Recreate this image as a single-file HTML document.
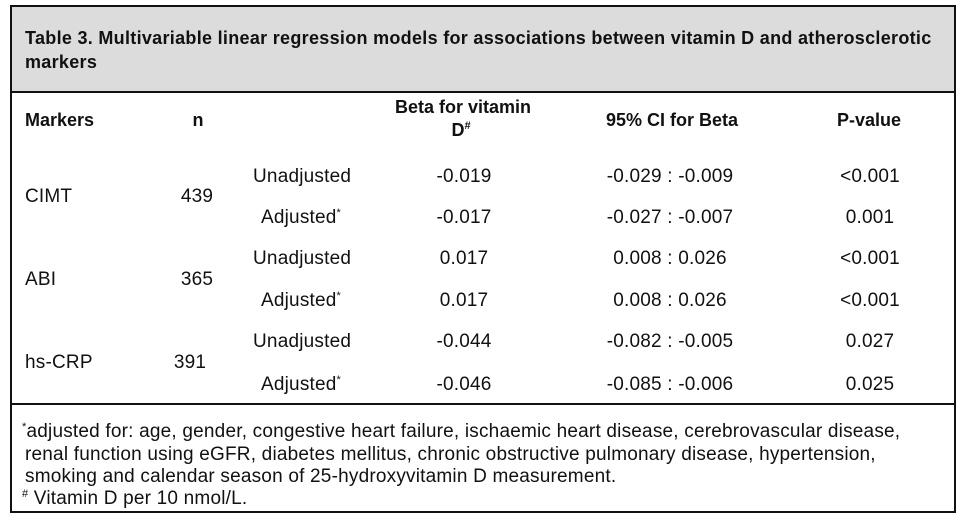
<!DOCTYPE html>
<html><head><style>
body{margin:0;width:969px;height:523px;background:#fff;position:relative;overflow:hidden;font-family:"Liberation Sans",sans-serif;color:#111;}
.box{position:absolute;left:10px;top:5px;width:942px;height:504px;border:2px solid #111;}
.hdr{position:absolute;left:12px;top:7px;width:942px;height:84px;background:#dcdcdc;border-bottom:2px solid #111;}
.fl{position:absolute;left:12px;top:403px;width:942px;border-top:2px solid #111;}
.t{position:absolute;white-space:nowrap;font-size:19px;line-height:22px;letter-spacing:0.2px;}
.b{font-weight:bold;font-size:18px;letter-spacing:0;}
.c{transform:translateX(-50%);}
sup{font-size:11px;vertical-align:7px;line-height:0;}
</style></head><body>
<div class="box"></div>
<div class="hdr"></div>
<div class="fl"></div>
<div class="t b" style="left:25px;top:27px;letter-spacing:0.3px">Table 3. Multivariable linear regression models for associations between vitamin D and atherosclerotic</div>
<div class="t b" style="left:25px;top:51px;letter-spacing:0.3px">markers</div>

<div class="t b" style="left:25px;top:109px">Markers</div>
<div class="t b c" style="left:198px;top:109px">n</div>
<div class="t b c" style="left:463px;top:96px">Beta for vitamin</div>
<div class="t b c" style="left:461px;top:119px">D<sup>#</sup></div>
<div class="t b c" style="left:672px;top:109px">95% CI for Beta</div>
<div class="t b c" style="left:869px;top:109px">P-value</div>

<div class="t" style="left:25px;top:186px">CIMT</div>
<div class="t c" style="left:197px;top:186px">439</div>
<div class="t" style="left:25px;top:269px">ABI</div>
<div class="t c" style="left:197px;top:269px">365</div>
<div class="t" style="left:25px;top:352px">hs-CRP</div>
<div class="t c" style="left:190px;top:352px">391</div>

<div class="t" style="left:253px;top:166px">Unadjusted</div>
<div class="t" style="left:261px;top:207px">Adjusted<sup>*</sup></div>
<div class="t" style="left:253px;top:248px">Unadjusted</div>
<div class="t" style="left:261px;top:290px">Adjusted<sup>*</sup></div>
<div class="t" style="left:253px;top:331px">Unadjusted</div>
<div class="t" style="left:261px;top:374px">Adjusted<sup>*</sup></div>

<div class="t c" style="left:464px;top:166px">-0.019</div>
<div class="t c" style="left:464px;top:207px">-0.017</div>
<div class="t c" style="left:464px;top:248px">0.017</div>
<div class="t c" style="left:464px;top:290px">0.017</div>
<div class="t c" style="left:464px;top:331px">-0.044</div>
<div class="t c" style="left:464px;top:374px">-0.046</div>

<div class="t c" style="left:670px;top:166px">-0.029 : -0.009</div>
<div class="t c" style="left:670px;top:207px">-0.027 : -0.007</div>
<div class="t c" style="left:670px;top:248px">0.008 : 0.026</div>
<div class="t c" style="left:670px;top:290px">0.008 : 0.026</div>
<div class="t c" style="left:670px;top:331px">-0.082 : -0.005</div>
<div class="t c" style="left:670px;top:374px">-0.085 : -0.006</div>

<div class="t c" style="left:870px;top:166px">&lt;0.001</div>
<div class="t c" style="left:870px;top:207px">0.001</div>
<div class="t c" style="left:870px;top:248px">&lt;0.001</div>
<div class="t c" style="left:870px;top:290px">&lt;0.001</div>
<div class="t c" style="left:870px;top:331px">0.027</div>
<div class="t c" style="left:870px;top:374px">0.025</div>

<div class="t" style="left:22px;top:421px"><sup>*</sup>adjusted for: age, gender, congestive heart failure, ischaemic heart disease, cerebrovascular disease,</div>
<div class="t" style="left:25px;top:444px">renal function using eGFR, diabetes mellitus, chronic obstructive pulmonary disease, hypertension,</div>
<div class="t" style="left:25px;top:466px">smoking and calendar season of 25-hydroxyvitamin D measurement.</div>
<div class="t" style="left:22px;top:488px"><sup>#</sup> Vitamin D per 10 nmol/L.</div>
</body></html>
